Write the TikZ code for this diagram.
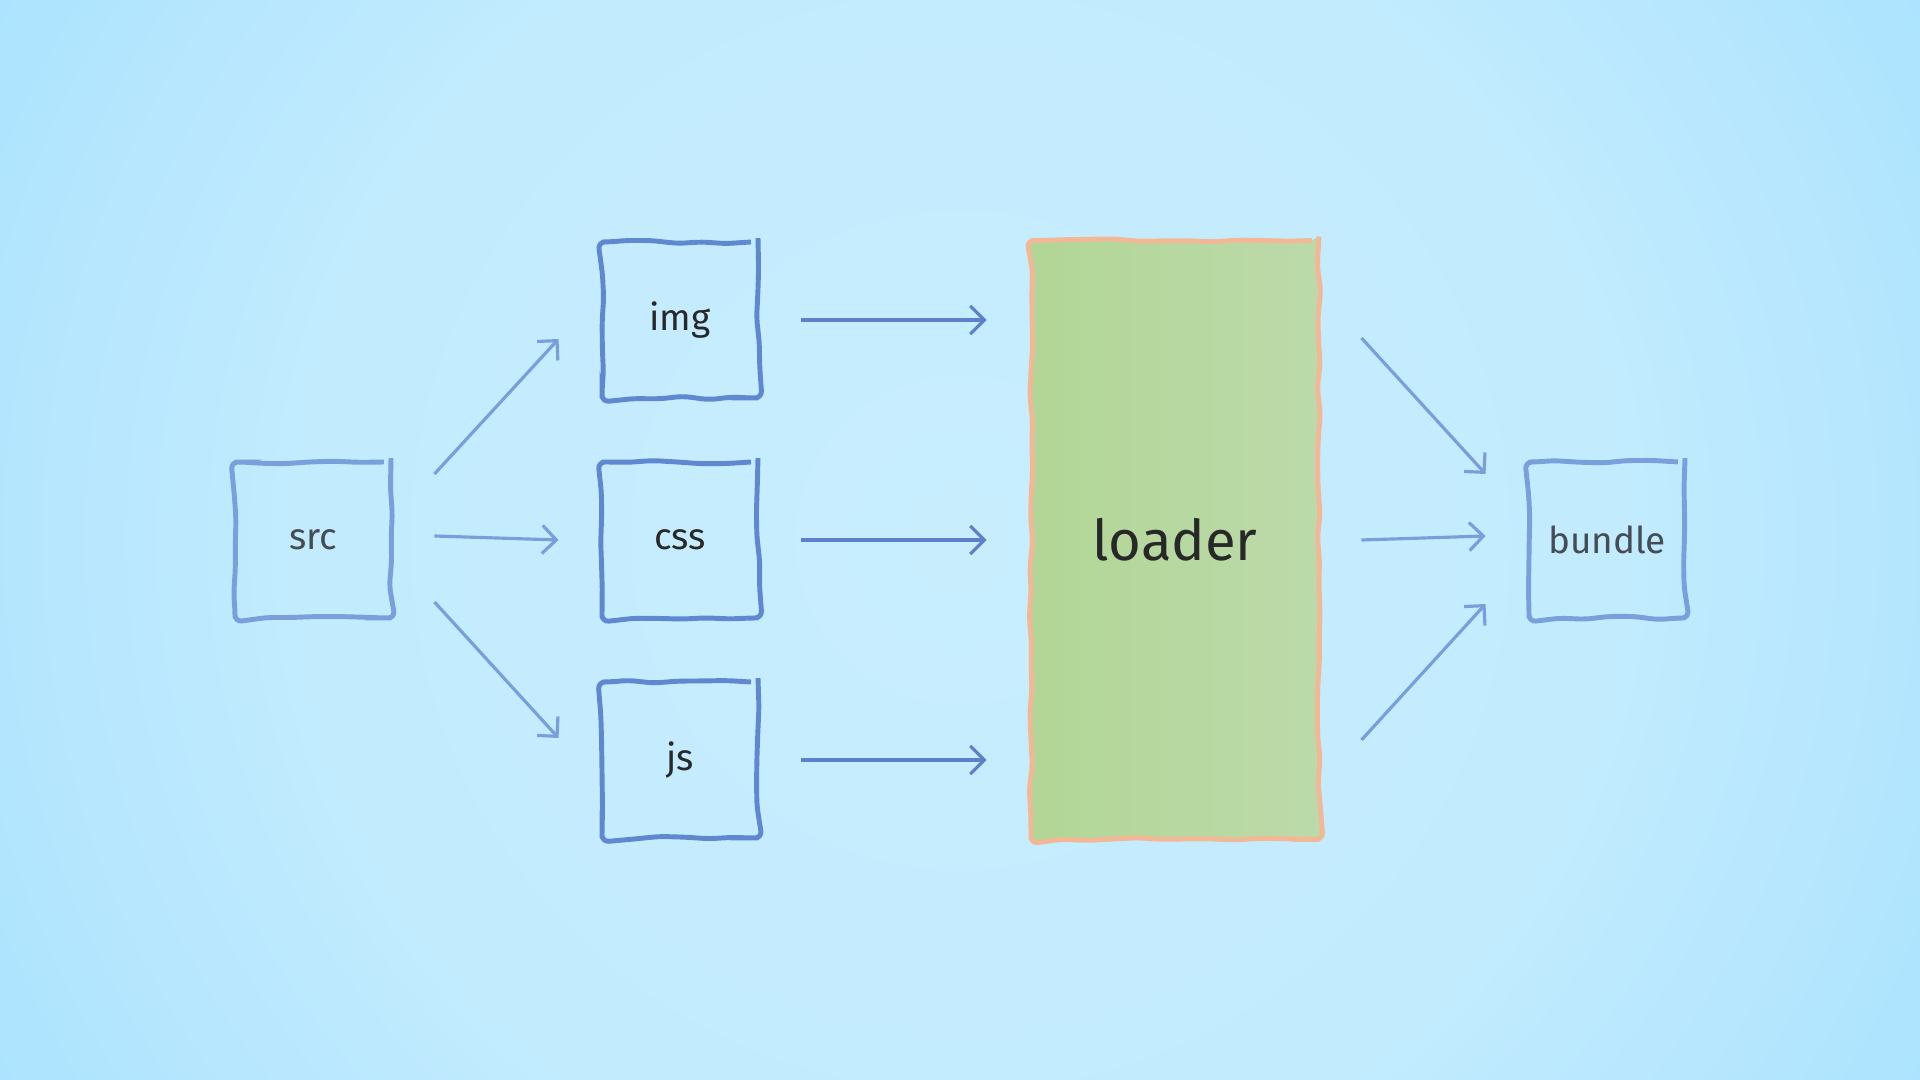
\documentclass[tikz,border=0pt]{standalone}
\usepackage{fontspec}
\setmainfont{Fira Sans}
\definecolor{bgc0}{RGB}{200,238,254}
\definecolor{bgc1}{RGB}{194,235,254}
\definecolor{bgc2}{RGB}{166,225,254}
\definecolor{bgc3}{RGB}{146,216,253}
\definecolor{boxblue}{RGB}{96,136,208}
\definecolor{boxlight}{RGB}{122,160,220}
\definecolor{arrblue}{RGB}{92,128,204}
\definecolor{arrlight}{RGB}{120,158,219}
\definecolor{loadgreenl}{RGB}{178,214,150}
\definecolor{loadgreenr}{RGB}{188,218,170}
\definecolor{loadedge}{RGB}{242,184,150}
\definecolor{txtgray}{RGB}{70,76,84}
\definecolor{txtdark}{RGB}{40,40,40}
\usetikzlibrary{arrows.meta,positioning,calc,decorations.pathmorphing}
\pgfdeclareradialshading{skyglow}{\pgfpoint{0bp}{0bp}}{color(0bp)=(bgc0); color(15bp)=(bgc1); color(28bp)=(bgc2); color(34bp)=(bgc3); color(50bp)=(bgc3)}

\tikzset{
  wobbly/.style={decorate, decoration={random steps, segment length=7pt, amplitude=0.5pt}, rounded corners=2pt},
  sketchbox/.style={draw=boxblue, line width=1.4pt, minimum width=1.56cm, minimum height=1.56cm,
    wobbly, font=\fontsize{10.5}{13}\selectfont, text=txtdark},
  lightbox/.style={sketchbox, draw=boxlight, text=txtgray},
  arr/.style={-{Straight Barb[length=4pt,width=8pt]}, line width=0.9pt, arrblue},
  arrlt/.style={arr, arrlight}
}

\begin{document}
\begin{tikzpicture}
  \pgfmathsetseed{7}
  % background
  \useasboundingbox (0,0) rectangle (19.2,10.8);
  \shade[shading=skyglow] (-1.41,-5.61) rectangle (20.61,16.41);

  % source and the three asset boxes
  \node[lightbox] (src) at (3.13,5.40) {src};
  \node[sketchbox] (img) at (6.80,7.60) {img};
  \node[sketchbox] (css) at (6.80,5.40) {css};
  \node[sketchbox] (js) at (6.80,3.20) {js};

  % loader
  \node[draw=loadedge, line width=1.4pt, left color=loadgreenl, right color=loadgreenr,
    minimum width=2.88cm, minimum height=5.99cm, wobbly,
    font=\fontsize{16}{19}\selectfont, text=txtdark] (loader) at (11.75,5.40) {loader};

  % output
  \node[lightbox] (bundle) at (16.07,5.40) {bundle};

  % src to assets
  \draw[arrlt] ([shift={(0.41,0.66)}]src.east) -- ([shift={(-0.41,-0.19)}]img.west);
  \draw[arrlt] ([shift={(0.41,0.04)}]src.east) -- ([shift={(-0.41,0)}]css.west);
  \draw[arrlt] ([shift={(0.41,-0.62)}]src.east) -- ([shift={(-0.41,0.22)}]js.west);

  % assets to loader
  \draw[arr] ([xshift=0.41cm]img.east) -- ([xshift=-0.42cm]loader.west |- img.east);
  \draw[arr] ([xshift=0.41cm]css.east) -- ([xshift=-0.42cm]loader.west |- css.east);
  \draw[arr] ([xshift=0.41cm]js.east) -- ([xshift=-0.42cm]loader.west |- js.east);

  % loader to bundle
  \draw[arrlt] ([shift={(0.40,2.02)}]loader.east) -- ([shift={(-0.41,0.66)}]bundle.west);
  \draw[arrlt] ([shift={(0.40,0)}]loader.east) -- ([shift={(-0.41,0.04)}]bundle.west);
  \draw[arrlt] ([shift={(0.40,-2.00)}]loader.east) -- ([shift={(-0.41,-0.64)}]bundle.west);
\end{tikzpicture}
\end{document}
